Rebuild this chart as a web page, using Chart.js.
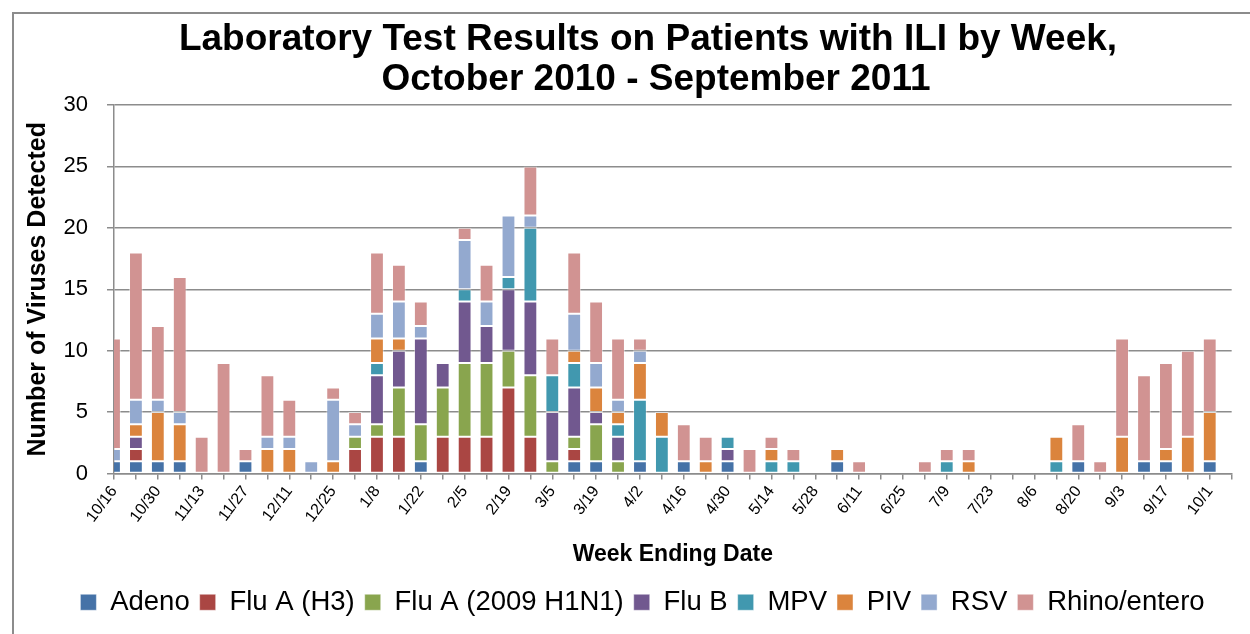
<!DOCTYPE html>
<html lang="en">
  <head>
    <meta charset="UTF-8" />
    <title>Laboratory Test Results on Patients with ILI by Week</title>
    <style>
      html, body { margin: 0; padding: 0; background: #fff; }
      .frame {
        position: absolute; left: 12px; top: 12px; width: 1300px; height: 700px;
        border-left: 2px solid #8c8c8c; border-top: 2px solid #8c8c8c;
      }
      .wrap { position: absolute; left: 0; top: 0; width: 1250px; height: 634px; }
    </style>
  </head>
  <body>
    <div class="frame"></div>
    <div class="wrap"><canvas id="chart" width="1250" height="634"></canvas></div>
    <script src="https://cdn.jsdelivr.net/npm/chart.js@4/dist/chart.umd.min.js"></script>
    <script>
// week ending dates (every other one is labelled)
var weeks = ['10/16','10/23','10/30','11/6','11/13','11/20','11/27','12/4','12/11','12/18',
  '12/25','1/1','1/8','1/15','1/22','1/29','2/5','2/12','2/19','2/26',
  '3/5','3/12','3/19','3/26','4/2','4/9','4/16','4/23','4/30','5/7',
  '5/14','5/21','5/28','6/4','6/11','6/18','6/25','7/2','7/9','7/16',
  '7/23','7/30','8/6','8/13','8/20','8/27','9/3','9/10','9/17','9/24',
  '10/1','10/8'];

var adeno    = [1,1,1,1,0,0,1,0,0,0, 0,0,0,0,1,0,0,0,0,0, 0,1,1,0,1,0,1,0,1,0, 0,0,0,1,0,0,0,0,0,0, 0,0,0,0,1,0,0,1,1,0, 1,0];
var fluAH3   = [0,1,0,0,0,0,0,0,0,0, 0,2,3,3,0,3,3,3,7,3, 0,1,0,0,0,0,0,0,0,0, 0,0,0,0,0,0,0,0,0,0, 0,0,0,0,0,0,0,0,0,0, 0,0];
var fluAH1N1 = [0,0,0,0,0,0,0,0,0,0, 0,1,1,4,3,4,6,6,3,5, 1,1,3,1,0,0,0,0,0,0, 0,0,0,0,0,0,0,0,0,0, 0,0,0,0,0,0,0,0,0,0, 0,0];
var fluB     = [0,1,0,0,0,0,0,0,0,0, 0,0,4,3,7,2,5,3,5,6, 4,4,1,2,0,0,0,0,1,0, 0,0,0,0,0,0,0,0,0,0, 0,0,0,0,0,0,0,0,0,0, 0,0];
var mpv      = [0,0,0,0,0,0,0,0,0,0, 0,0,1,0,0,0,1,0,1,6, 3,2,0,1,5,3,0,0,1,0, 1,1,0,0,0,0,0,0,1,0, 0,0,0,1,0,0,0,0,0,0, 0,0];
var piv      = [0,1,4,3,0,0,0,2,2,0, 1,0,2,1,0,0,0,0,0,0, 0,1,2,1,3,2,0,1,0,0, 1,0,0,1,0,0,0,0,0,1, 0,0,0,2,0,0,3,0,1,3, 4,0];
var rsv      = [1,2,1,1,0,0,0,1,1,1, 5,1,2,3,1,0,4,2,5,1, 0,3,2,1,1,0,0,0,0,0, 0,0,0,0,0,0,0,0,0,0, 0,0,0,0,0,0,0,0,0,0, 0,0];
var rhino    = [9,12,6,11,3,9,1,5,3,0, 1,1,5,3,2,0,1,3,0,4, 3,5,5,5,1,0,3,2,0,2, 1,1,0,0,1,0,0,1,1,1, 0,0,0,0,3,1,8,7,7,7, 6,0];

var yTicks = [0, 5, 10, 15, 20, 25, 30];

var series = [
  ['Adeno', adeno, '#4572A7'],
  ['Flu A (H3)', fluAH3, '#AA4643'],
  ['Flu A (2009 H1N1)', fluAH1N1, '#89A54E'],
  ['Flu B', fluB, '#71588F'],
  ['MPV', mpv, '#4198AF'],
  ['PIV', piv, '#DB843D'],
  ['RSV', rsv, '#93A9CF'],
  ['Rhino/entero', rhino, '#D19392']
];

var gray = '#8c8c8c';
var font = 'Liberation Sans, Arial, sans-serif';
var padLeft = 46;

// two line title, centred like the original
var titlePlugin = {
  id: 'bigTitle',
  afterDraw: function(chart) {
    var c = chart.ctx;
    c.save();
    c.fillStyle = '#000';
    c.font = 'bold 37px ' + font;
    c.textAlign = 'center';
    c.textBaseline = 'middle';
    c.fillText('Laboratory Test Results on Patients with ILI by Week,', 648, 40);
    c.fillText('October 2010 - September 2011', 656, 80);
    c.restore();
  }
};

var ctx = document.getElementById('chart').getContext('2d');
var chart = new Chart(ctx, {
  type: 'bar',
  data: {
    labels: weeks,
    datasets: series.map(function(s) {
      return {
        label: s[0],
        data: s[1],
        backgroundColor: s[2],
        borderColor: 'rgba(255,255,255,0.45)',
        borderWidth: 1,
        borderSkipped: false,
        barPercentage: 0.63,
        categoryPercentage: 1,
        clip: 0
      };
    })
  },
  options: {
    responsive: false,
    animation: false,
    layout: { padding: { left: padLeft, right: 11, top: 105, bottom: 8 } },
    plugins: {
      title: { display: false },
      tooltip: { enabled: false },
      legend: {
        position: 'bottom',
        labels: {
          boxWidth: 16,
          boxHeight: 16,
          padding: 10,
          color: '#000',
          font: { family: font, size: 27.5 }
        }
      }
    },
    scales: {
      x: {
        stacked: true,
        offset: false,
        afterFit: function(scale) { scale.height = 105; },
        grid: { offset: false, drawOnChartArea: false, color: gray, tickLength: 6, lineWidth: 1.5 },
        border: { color: gray, width: 1.5 },
        ticks: {
          autoSkip: false,
          maxRotation: 53,
          minRotation: 53,
          color: '#000',
          font: { family: font, size: 16 },
          callback: function(v, i) { return i % 2 ? '' : weeks[i]; }
        },
        title: {
          display: true,
          text: 'Week Ending Date',
          color: '#000',
          font: { family: font, size: 23, weight: 'bold' },
          padding: { top: 4, bottom: 10 }
        }
      },
      y: {
        stacked: true,
        min: yTicks[0],
        max: yTicks[yTicks.length - 1],
        afterFit: function(scale) { scale.width = 114 - padLeft; },
        afterBuildTicks: function(scale) {
          scale.ticks = yTicks.map(function(v) { return { value: v }; });
        },
        grid: { color: gray, lineWidth: 1.5, tickLength: 7 },
        border: { color: gray, width: 1.5 },
        ticks: {
          padding: 19,
          color: '#000',
          font: { family: font, size: 22 }
        },
        title: {
          display: true,
          text: 'Number of Viruses Detected',
          color: '#000',
          font: { family: font, size: 25, weight: 'bold' },
          padding: { top: 38 - padLeft - 15, bottom: 0 }
        }
      }
    }
  },
  plugins: [titlePlugin]
});
    </script>
  </body>
</html>
